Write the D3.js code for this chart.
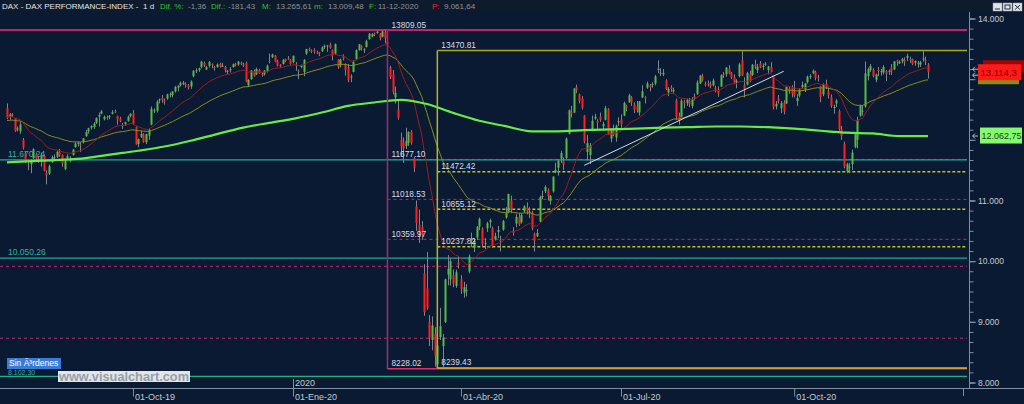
<!DOCTYPE html>
<html><head><meta charset="utf-8">
<script src="https://cdn.jsdelivr.net/npm/d3@7"></script>
<style>html,body{margin:0;padding:0;background:#0a1a33;overflow:hidden}svg{display:block}</style>
</head><body><svg id="c" width="1024" height="404"></svg>
<script>
// ---------------- DATA ----------------
const tradingDays = {
 "2019-07":[25,26,29,30,31],
 "2019-08":[1,2,5,6,7,8,9,12,13,14,15,16,19,20,21,22,23,26,27,28,29,30],
 "2019-09":[2,3,4,5,6,9,10,11,12,13,16,17,18,19,20,23,24,25,26,27,30],
 "2019-10":[1,2,4,7,8,9,10,11,14,15,16,17,18,21,22,23,24,25,28,29,30,31],
 "2019-11":[1,4,5,6,7,8,11,12,13,14,15,18,19,20,21,22,25,26,27,28,29],
 "2019-12":[2,3,4,5,6,9,10,11,12,13,16,17,18,19,20,23,27,30],
 "2020-01":[2,3,6,7,8,9,10,13,14,15,16,17,20,21,22,23,24,27,28,29,30,31],
 "2020-02":[3,4,5,6,7,10,11,12,13,14,17,18,19,20,21,24,25,26,27,28],
 "2020-03":[2,3,4,5,6,9,10,11,12,13,16,17,18,19,20,23,24,25,26,27,30,31],
 "2020-04":[1,2,3,6,7,8,9,14,15,16,17,20,21,22,23,24,27,28,29,30],
 "2020-05":[4,5,6,7,8,11,12,13,14,15,18,19,20,21,22,25,26,27,28,29],
 "2020-06":[2,3,4,5,8,9,10,11,12,15,16,17,18,19,22,23,24,25,26,29,30],
 "2020-07":[1,2,3,6,7,8,9,10,13,14,15,16,17,20,21,22,23,24,27,28,29,30,31],
 "2020-08":[3,4,5,6,7,10,11,12,13,14,17,18,19,20,21,24,25,26,27,28,31],
 "2020-09":[1,2,3,4,7,8,9,10,11,14,15,16,17,18,21,22,23,24,25,28,29,30],
 "2020-10":[1,2,5,6,7,8,9,12,13,14,15,16,19,20,21,22,23,26,27,28,29,30],
 "2020-11":[2,3,4,5,6,9,10,11,12,13,16,17,18,19,20,23,24,25,26,27,30],
 "2020-12":[1,2,3,4,7,8,9,10,11]
};
const open = [
 12520,12380,12420,12350,12170,
 12140,12000,11780,11580,11600,11700,11760,11680,11650,11730,11450,11440,11640,11700,11720,11800,11750,11520,11700,11680,11750,11880,
 11930,11920,11960,12060,12140,12200,12210,12280,12380,12430,12340,12380,12380,12430,12470,12390,12350,12250,12260,12310,12390,
 12440,12210,11930,12050,12090,11960,12070,12250,12480,12480,12650,12690,12650,12680,12750,12740,12800,12860,12900,12940,12920,12900,
 12880,13050,13140,13150,13200,13270,13160,13220,13250,13200,13200,13250,13220,13200,13120,13150,13200,13250,13240,13270,13240,
 13270,12900,13000,13130,13080,13150,13080,13080,13130,13300,13360,13390,13300,13240,13250,13330,13340,13320,
 13280,13240,13140,13200,13120,13420,13500,13470,13480,13440,13440,13460,13540,13540,13570,13480,13420,13320,13230,13380,13250,13200,
 13040,13120,13330,13480,13550,13480,13530,13660,13700,13750,13760,13750,13700,13780,13620,13200,13080,12700,12500,12000,
 11950,11900,11950,12130,11700,10900,10600,10560,9800,9550,9000,8700,8800,8300,8750,8600,9000,9780,9700,9770,9590,9980,
 9700,9480,9520,9830,10350,10220,10390,10570,10540,10300,10540,10640,10540,10360,10480,10350,10520,10720,10800,11000,
 10500,10620,10730,10640,10820,10880,10800,10800,10450,10410,10650,11070,11150,11170,10990,11150,11460,11540,11690,11650,
 11700,12100,12460,12450,12870,12750,12680,12400,11800,11750,12170,12350,12310,12380,12220,12330,12500,12020,12160,12040,12290,
 12330,12400,12560,12620,12700,12580,12550,12450,12700,12700,12860,12900,12910,12930,13150,13100,13080,12980,12780,12860,12800,12650,12400,
 12380,12620,12610,12640,12560,12720,12760,12930,13050,12920,12940,12920,12900,12850,12820,12880,13080,13080,13160,13100,13040,
 12950,13050,13310,12900,12910,13090,13070,13240,13150,13260,13200,13250,13150,13200,13050,12550,12680,12520,12620,12600,12850,12860,
 12800,12640,12730,12870,12820,12950,13050,13100,13120,13030,12880,12750,12920,12800,12700,12530,12600,12470,12180,11930,11480,11550,
 11600,11880,12000,12400,12470,12550,13050,13150,13150,12990,13150,13130,13110,13130,13120,13180,13160,13310,13260,13290,13320,
 13350,13330,13330,13270,13260,13240,13330,13310,13240
];
const high = [
 12600,12440,12440,12360,12220,
 12300,12030,11800,11660,11680,11860,11780,11730,11790,11760,11500,11590,11740,11760,11830,11850,11760,11670,11760,11730,11850,11960,
 11970,11960,12030,12160,12200,12240,12290,12370,12450,12490,12400,12400,12410,12490,12500,12400,12380,12280,12300,12400,12440,
 12490,12220,12020,12150,12110,12100,12190,12550,12520,12650,12680,12740,12680,12760,12780,12800,12890,12900,12960,12970,12950,12920,
 12980,13150,13180,13190,13300,13290,13220,13300,13260,13220,13260,13270,13270,13220,13150,13200,13260,13270,13300,13290,13270,
 13290,13000,13150,13160,13190,13170,13110,13150,13240,13420,13420,13400,13320,13250,13330,13340,13380,13330,
 13390,13280,13160,13240,13330,13500,13520,13490,13510,13470,13450,13540,13570,13560,13600,13490,13590,13330,13340,13410,13260,13250,
 13080,13310,13490,13580,13560,13510,13650,13760,13760,13770,13800,13760,13809,13800,13650,13220,13150,12880,12650,12120,
 12040,12200,12140,12160,11720,11000,10850,10660,9950,10150,9110,9090,8910,8720,9230,8800,9710,10100,10050,9860,9860,10080,
 9770,9660,9620,10110,10470,10370,10580,10720,10560,10380,10650,10700,10570,10470,10580,10420,10680,10890,11110,11080,
 10560,10780,10790,10790,10920,10970,10890,10830,10470,10530,11080,11160,11250,11200,11090,11400,11620,11680,11820,11710,
 12040,12500,12560,12850,12910,12760,12720,12410,12080,11950,12400,12430,12340,12450,12300,12560,12520,12190,12250,12250,12370,
 12420,12630,12580,12760,12720,12620,12640,12640,12900,12720,12960,12920,12950,13070,13310,13180,13170,13000,12870,12900,12860,12680,12450,
 12670,12660,12680,12690,12700,12760,12980,13070,13090,12960,12980,12960,13010,12890,12880,13080,13120,13200,13230,13120,13080,
 13000,13270,13460,13030,13120,13140,13250,13320,13250,13300,13260,13280,13220,13280,13060,12640,12740,12640,12650,12880,12870,12900,
 12970,12750,12850,12960,12940,13060,13080,13160,13140,13070,12890,12930,12990,12860,12750,12580,12670,12500,12230,11970,11620,11620,
 11840,12130,12380,12580,12570,13290,13190,13250,13180,13090,13200,13170,13230,13150,13160,13250,13300,13320,13310,13350,13360,
 13420,13370,13340,13310,13300,13300,13460,13370,13265.61
];
const low = [
 12340,12330,12380,12130,12140,
 12100,11840,11620,11500,11450,11680,11660,11620,11560,11480,11266,11420,11620,11660,11700,11720,11560,11500,11690,11630,11740,11870,
 11890,11800,11940,12050,12100,12170,12180,12260,12220,12420,12320,12330,12340,12420,12440,12250,12290,12180,12230,12300,12370,
 12250,11920,11880,12030,11950,11930,12000,12240,12440,12450,12600,12610,12580,12660,12700,12700,12780,12800,12880,12900,12860,12830,
 12840,13030,13100,13120,13180,13200,13150,13190,13180,13140,13190,13190,13200,13110,13080,13110,13190,13210,13220,13230,13200,
 12950,12870,12990,13040,13070,13090,13040,13060,13110,13260,13350,13280,13210,13190,13240,13280,13320,13240,
 13260,13140,13000,13180,13050,13400,13460,13430,13420,13410,13380,13450,13500,13450,13500,13310,13400,13170,13190,13310,13060,12950,
 12950,13110,13310,13470,13470,13430,13520,13650,13690,13710,13750,13640,13690,13590,13540,13000,12750,12600,12330,11720,
 11620,11850,11900,11920,11470,10500,10300,10350,9100,9200,8600,8530,8260,8228,8700,8255,8980,9600,9600,9570,9560,9880,
 9460,9400,9420,9800,10230,10150,10350,10510,10240,10200,10480,10550,10220,10340,10380,10160,10500,10700,10790,10790,
 10420,10560,10580,10620,10800,10770,10710,10510,10160,10400,10640,11020,11120,11000,10930,11130,11450,11410,11620,11500,
 11680,12090,12370,12440,12770,12600,12500,11940,11660,11600,12150,12330,12180,12300,12150,12320,12080,11960,12060,11970,12230,
 12200,12390,12470,12610,12560,12440,12450,12400,12690,12600,12840,12800,12860,12900,13100,13050,13050,12820,12720,12790,12760,12330,12250,
 12370,12520,12560,12540,12520,12650,12740,12920,12960,12880,12880,12850,12880,12780,12710,12870,13020,13040,13080,13000,12930,
 12850,13030,13050,12700,12900,12950,13050,13170,13100,13180,13150,13220,13080,13110,12500,12500,12600,12440,12420,12590,12760,12700,
 12700,12560,12700,12840,12790,12930,13000,13080,12980,12960,12620,12720,12840,12680,12530,12430,12540,12150,12000,11530,11450,11450,
 11500,11860,11860,12380,12400,12530,12980,13120,13030,12950,13050,13060,13080,12970,13070,13070,13150,13220,13250,13260,13220,
 13300,13270,13230,13220,13190,13200,13290,13230,13009.48
];
const close = [
 12362,12419,12418,12147,12189,
 12253,11872,11658,11568,11650,11845,11694,11680,11750,11493,11412,11563,11715,11712,11802,11747,11612,11658,11730,11701,11838,11939,
 11953,11911,12025,12127,12192,12226,12268,12360,12410,12469,12381,12372,12390,12457,12468,12342,12308,12234,12289,12381,12428,
 12263,11925,12013,12097,11970,12094,12164,12512,12486,12630,12670,12654,12634,12748,12754,12798,12872,12894,12941,12940,12910,12867,
 12961,13136,13148,13180,13289,13228,13198,13283,13230,13180,13242,13207,13221,13148,13138,13164,13247,13232,13288,13246,13236,
 12965,12989,13141,13055,13167,13106,13071,13142,13222,13283,13407,13288,13222,13212,13319,13300,13337,13249,
 13386,13219,13127,13227,13320,13495,13483,13452,13456,13432,13430,13526,13549,13556,13515,13388,13577,13205,13324,13345,13158,12982,
 13046,13282,13479,13575,13514,13494,13627,13750,13745,13744,13783,13681,13789,13665,13579,13035,12790,12775,12367,11890,
 11857,11985,12128,11945,11542,10625,10475,10439,9161,9232,8742,8939,8442,8610,8929,8742,9701,9874,10000,9633,9816,9936,
 9544,9571,9526,10075,10356,10333,10565,10697,10280,10301,10626,10676,10250,10416,10514,10336,10659,10796,11108,10862,
 10467,10730,10607,10759,10904,10825,10820,10542,10338,10465,11058,11075,11223,11066,11074,11392,11505,11657,11781,11587,
 12021,12487,12431,12848,12820,12642,12530,11970,11949,11911,12315,12382,12281,12331,12262,12523,12094,12177,12089,12232,12311,
 12260,12608,12528,12733,12617,12495,12489,12633,12800,12697,12931,12874,12920,13046,13171,13104,13103,12838,12839,12836,12822,12379,12313,
 12647,12600,12661,12591,12674,12687,12946,13058,12993,12901,12920,12881,12977,12830,12765,13067,13062,13190,13096,13033,12945,
 12974,13243,13057,12842,13100,12968,13237,13209,13203,13194,13218,13255,13208,13116,12542,12595,12642,12606,12469,12870,12825,12761,
 12731,12689,12828,12906,12929,13042,13051,13138,13018,13028,12704,12909,12854,12737,12558,12543,12646,12178,12063,11561,11598,11556,
 11789,12089,12324,12568,12480,13096,13163,13217,13053,13077,13139,13133,13202,13087,13137,13127,13292,13290,13286,13335,13291,
 13382,13313,13253,13299,13271,13278,13340,13296,13114.3
];
// closes of the sessions before the first visible bar (only feed the moving averages)
const priorCloses = [
 12310,12239,12041,12143,12169,11953,12011,12071,12027,11837,11902,11727,
 11971,12045,12089,12059,12045,12155,12115,12169,12096,12086,12331,12309,12355,12340,12274,12228,12245,12271,12399,
 12521,12555,12616,12629,12568,12543,12437,12373,12332,12323,12387,12430,12341,12227,12260,12289,12490,12522
];
// 200-session average at these bar numbers
const ma200At = [0,10,20,30,40,50,60,70,80,90,100,110,120,130,140,150,160,170,180,190,200,210,220,230,240,250,260,270,280,290,300,310,320,330,340,351];
const ma200 = [11630,11650,11670,11700,11760,11820,11890,11985,12095,12200,12280,12355,12450,12560,12615,12660,12590,12445,12315,12225,12140,12140,12160,12172,12185,12200,12210,12220,12220,12208,12185,12150,12118,12105,12060,12062.75];

// drawn studies
const pinkFib = {anchor:"2020-02-21", top:13809.05, bottom:8228.02};
const pinkLevels = [11677.10, 11018.53, 10359.97];
const yellowFib = {anchor:"2020-03-19", top:13470.81, bottom:8239.43};
const yellowLevels = [11472.42, 10855.12, 10237.82];
const tealLevels = [11670.24, 10050.26, 8102.30];
const tealLabels = ["11.670,24", "10.050,26", "8.102,30"];
const pinkDashLevels = [9915, 8730];
const trendLine = [["2020-06-11", 11580], ["2020-09-25", 13130]];

const xTickMonths = ["2019-10","2020-01","2020-04","2020-07","2020-10"];
const xTickLabels = ["01-Oct-19","01-Ene-20","01-Abr-20","01-Jul-20","01-Oct-20"];
const yearMark = ["2020-01", "2020"];
const yTickMarks = [8000,9000,10000,11000,12000,13000,14000];
const yTickLabels = [8000,9000,10000,11000,14000]; // 12.000 / 13.000 sit under the price badges

const header = [
 ["DAX - DAX PERFORMANCE-INDEX -", "#e4e6ea", 2],
 ["1 d", "#e4e6ea", 143],
 ["Dif. %:", "#34c034", 160], ["-1,36", "#8b929a", 188],
 ["Dif.:", "#34c034", 211], ["-181,43", "#8b929a", 228],
 ["M:", "#34c034", 262], ["13.265,61", "#8b929a", 276],
 ["m:", "#34c034", 314], ["13.009,48", "#8b929a", 328],
 ["F:", "#34c034", 369], ["11-12-2020", "#8b929a", 378],
 ["P:", "#ff2020", 432], ["9.061,64", "#8b929a", 444]
];

// ---------------- CHART ----------------
const W = 1024, H = 404;
const svg = d3.select("#c");
const FONT = "'Liberation Sans', Arial, sans-serif";
svg.append("rect").attr("width", W).attr("height", H).attr("fill", "#0a1a33");
svg.append("rect").attr("width", W).attr("height", 12).attr("fill", "#0e1b2c");

const dates = [];
Object.entries(tradingDays).forEach(([m, ds]) => ds.forEach(d => dates.push(m + "-" + String(d).padStart(2, "0"))));
const idxOf = d => dates.indexOf(d);
const firstOfMonth = m => dates.findIndex(d => d.startsWith(m));

const x = d3.scaleLinear().domain([0, dates.length - 1]).range([7, 928]);
const y = d3.scaleLinear().domain([8000, 14000]).range([382.5, 18.5]);
const XR = 967;
const es = d3.formatLocale({decimal: ",", thousands: ".", grouping: [3], currency: ["", ""]});

const gLev = svg.append("g");
function hline(v, x0, x1, color, w, dash) {
  gLev.append("line").attr("x1", x0).attr("x2", x1).attr("y1", y(v)).attr("y2", y(v))
    .attr("stroke", color).attr("stroke-width", w).attr("stroke-dasharray", dash || null);
}
pinkDashLevels.forEach(v => hline(v, 0, XR, "#c8246c", 1, "3,3"));
const px = x(idxOf(pinkFib.anchor));
pinkLevels.forEach(v => hline(v, px, XR, "#c8246c", 1, "3,3"));
const yx = x(idxOf(yellowFib.anchor));
yellowLevels.forEach(v => hline(v, yx, XR, "#c4c21e", 1.5, "3,2"));
tealLevels.forEach((v, i) => hline(v, 0, XR, i === 2 ? "#1fb286" : "#1fa899", 1.2));
tealLevels.forEach((v, i) => {
  const last = i === tealLevels.length - 1;
  gLev.append("text").attr("x", 8).attr("y", y(v) - (last ? 1.5 : 3)).text(tealLabels[i])
    .attr("fill", "#33b3a3").attr("font-family", FONT).attr("font-size", last ? 7 : 8.5);
});

// candles
const gC = svg.append("g");
close.forEach((c, i) => {
  const cx = Math.round(x(i));
  gC.append("line").attr("x1", cx + 0.5).attr("x2", cx + 0.5).attr("y1", y(high[i])).attr("y2", y(low[i]))
    .attr("stroke", "#7d858f").attr("stroke-width", 1);
  const up = c >= open[i];
  const yt = y(Math.max(c, open[i])), yb = y(Math.min(c, open[i]));
  gC.append("rect").attr("x", cx - 0.5).attr("width", 2).attr("y", yt).attr("height", Math.max(1, yb - yt))
    .attr("fill", up ? "#56bb45" : "#ff1f1f");
});

// moving averages (exponential, 20 and 50 sessions)
const full = priorCloses.concat(close);
const P = priorCloses.length;
function ema(n) {
  const k = 2 / (n + 1); let e = full[0]; const out = [];
  full.forEach((v, j) => { e = j === 0 ? v : v * k + e * (1 - k); if (j >= P) out.push(e); });
  return out;
}
const line = d3.line().x((d, i) => x(i)).y(d => y(d));
svg.append("path").attr("d", line(ema(50))).attr("fill", "none").attr("stroke", "#8e8c1c").attr("stroke-width", 1);
svg.append("path").attr("d", line(ema(20))).attr("fill", "none").attr("stroke", "#9c1d1d").attr("stroke-width", 1);
const line200 = d3.line().x(d => x(d[0])).y(d => y(d[1])).curve(d3.curveMonotoneX);
svg.append("path").attr("d", line200(ma200At.map((a, i) => [a, ma200[i]]))).attr("fill", "none")
  .attr("stroke", "#66ec48").attr("stroke-width", 2.2);

// fib frames
const gF = svg.append("g");
gF.append("line").attr("x1", 0).attr("x2", XR).attr("y1", y(pinkFib.top)).attr("y2", y(pinkFib.top)).attr("stroke", "#ff2a78").attr("stroke-width", 1.5);
gF.append("line").attr("x1", px).attr("x2", px).attr("y1", y(pinkFib.top)).attr("y2", y(pinkFib.bottom)).attr("stroke", "#a4287a").attr("stroke-width", 1.5);
gF.append("line").attr("x1", px).attr("x2", XR).attr("y1", y(pinkFib.bottom)).attr("y2", y(pinkFib.bottom)).attr("stroke", "#e0306a").attr("stroke-width", 1.5);
gF.append("line").attr("x1", yx).attr("x2", XR).attr("y1", y(yellowFib.top)).attr("y2", y(yellowFib.top)).attr("stroke", "#a9a81c").attr("stroke-width", 1.5);
gF.append("line").attr("x1", yx).attr("x2", yx).attr("y1", y(yellowFib.top)).attr("y2", y(yellowFib.bottom)).attr("stroke", "#b8b41e").attr("stroke-width", 1.5);
gF.append("line").attr("x1", yx).attr("x2", XR).attr("y1", y(yellowFib.bottom)).attr("y2", y(yellowFib.bottom)).attr("stroke", "#d2c020").attr("stroke-width", 1.5);
const fl = (v, x0) => gF.append("text").attr("x", x0).attr("y", y(v) - 2.5).text(v.toFixed(2))
  .attr("fill", "#d9dde2").attr("font-family", FONT).attr("font-size", 8.3);
[pinkFib.top, ...pinkLevels, pinkFib.bottom].forEach(v => fl(v, px + 4));
[yellowFib.top, ...yellowLevels, yellowFib.bottom].forEach(v => fl(v, yx + 4));

// trend line
svg.append("line").attr("x1", x(idxOf(trendLine[0][0]))).attr("y1", y(trendLine[0][1]))
  .attr("x2", x(idxOf(trendLine[1][0]))).attr("y2", y(trendLine[1][1]))
  .attr("stroke", "#d4dce4").attr("stroke-width", 1);

// axes
const AX = "#7f8fa0";
svg.append("line").attr("x1", 969.5).attr("x2", 969.5).attr("y1", 12).attr("y2", 388).attr("stroke", AX);
svg.append("line").attr("x1", 0).attr("x2", W).attr("y1", 388.5).attr("y2", 388.5).attr("stroke", AX);
const gy = svg.append("g").attr("transform", "translate(969.5,0)");
gy.append("g").call(d3.axisRight(y).tickValues(d3.range(8000, 14001, 1000 / 6)).tickSize(4).tickFormat(""))
  .call(g => g.select(".domain").remove()).call(g => g.selectAll("line").attr("stroke", AX));
gy.append("g").call(d3.axisRight(y).tickValues(yTickMarks).tickSize(6).tickFormat(""))
  .call(g => g.select(".domain").remove()).call(g => g.selectAll("line").attr("stroke", AX));
gy.append("g").call(d3.axisRight(y).tickValues(yTickLabels).tickSize(6).tickPadding(2.5).tickFormat(es.format(",.0f")))
  .call(g => g.select(".domain").remove()).call(g => g.selectAll("line").attr("stroke", AX))
  .call(g => g.selectAll("text").attr("fill", "#c5cad0").attr("font-family", FONT).attr("font-size", 8.5));

const gx = svg.append("g").attr("transform", "translate(0,388.5)");
gx.call(d3.axisBottom(x).tickValues(xTickMonths.map(firstOfMonth)).tickSize(8).tickSizeOuter(0)
   .tickFormat((d, i) => xTickLabels[i]))
  .call(g => g.select(".domain").remove()).call(g => g.selectAll("line").attr("stroke", AX))
  .call(g => g.selectAll("text").attr("fill", "#c5cad0").attr("font-family", FONT).attr("font-size", 9)
     .attr("text-anchor", "start").attr("dx", 1.5).attr("dy", 0.2));
const yrx = Math.round(x(firstOfMonth(yearMark[0]))) + 0.5;
svg.append("line").attr("x1", yrx).attr("x2", yrx).attr("y1", 379).attr("y2", 388).attr("stroke", AX);
svg.append("text").attr("x", yrx + 1.5).attr("y", 386).text(yearMark[1]).attr("fill", "#c5cad0")
  .attr("font-family", FONT).attr("font-size", 9);
svg.append("line").attr("x1", 963.5).attr("x2", 963.5).attr("y1", 388).attr("y2", 396).attr("stroke", AX);

// price badges
const lastClose = close[close.length - 1];
const lastMa = ma200[ma200.length - 1];
const yc = y(lastClose), ym = y(lastMa);
svg.append("rect").attr("x", 983).attr("y", yc - 12).attr("width", 41).attr("height", 12).attr("fill", "#a00404");
svg.append("rect").attr("x", 978).attr("y", yc + 2).attr("width", 41).attr("height", 10).attr("fill", "#8c8b18");
svg.append("rect").attr("x", 978).attr("y", yc - 8).attr("width", 43).attr("height", 16).attr("fill", "#ff1a1a");
svg.append("text").attr("x", 980.5).attr("y", yc + 3.5).text(es.format(",.1f")(lastClose)).attr("fill", "#7a0000").attr("font-family", FONT).attr("font-size", 9.5);
svg.append("rect").attr("x", 980).attr("y", ym - 8.5).attr("width", 42).attr("height", 16).attr("fill", "#84fb6c");
svg.append("text").attr("x", 981.5).attr("y", ym + 3).text(es.format(",.2f")(lastMa)).attr("fill", "#1d3b1d").attr("font-family", FONT).attr("font-size", 9);
const arrow = (yy) => svg.append("path").attr("d", `M978,${yy} L973,${yy} M975,${yy - 2.5} L972.5,${yy} L975,${yy + 2.5}`)
  .attr("stroke", "#c8ccd0").attr("fill", "none").attr("stroke-width", 0.9);
arrow(yc - 3); arrow(yc + 3); arrow(ym);

// window buttons
[993, 1003, 1013].forEach((bx, i) => {
  svg.append("rect").attr("x", bx).attr("y", 3).attr("width", 9).attr("height", 8).attr("fill", "#dfe3e7").attr("stroke", "#9aa3ad").attr("stroke-width", 0.5);
  const g = svg.append("g").attr("stroke", "#2a3038").attr("stroke-width", 1).attr("fill", "none");
  if (i === 0) g.append("line").attr("x1", bx + 2).attr("x2", bx + 7).attr("y1", 9).attr("y2", 9);
  if (i === 1) g.append("rect").attr("x", bx + 2).attr("y", 5).attr("width", 5).attr("height", 4);
  if (i === 2) g.append("path").attr("d", `M${bx + 2},5 L${bx + 7},9.5 M${bx + 7},5 L${bx + 2},9.5`);
});

// header
header.forEach(([t, c, hx]) => svg.append("text").attr("x", hx).attr("y", 9).text(t).attr("fill", c)
  .attr("font-family", FONT).attr("font-size", 8));

// badges bottom-left
svg.append("rect").attr("x", 7).attr("y", 358).attr("width", 54).attr("height", 11).attr("fill", "#3a7bd6");
svg.append("text").attr("x", 9).attr("y", 366).text("Sin Ã³rdenes").attr("fill", "#ffffff").attr("font-family", FONT).attr("font-size", 8.5);
svg.append("rect").attr("x", 58).attr("y", 371).attr("width", 132).attr("height", 11).attr("fill", "#e2e5e9");
svg.append("text").attr("x", 59).attr("y", 380.5).text("www.visualchart.com").attr("fill", "#979ea6")
  .attr("font-family", FONT).attr("font-size", 12).attr("font-weight", "bold")
  .attr("textLength", 130).attr("lengthAdjust", "spacingAndGlyphs");
</script></body></html>
